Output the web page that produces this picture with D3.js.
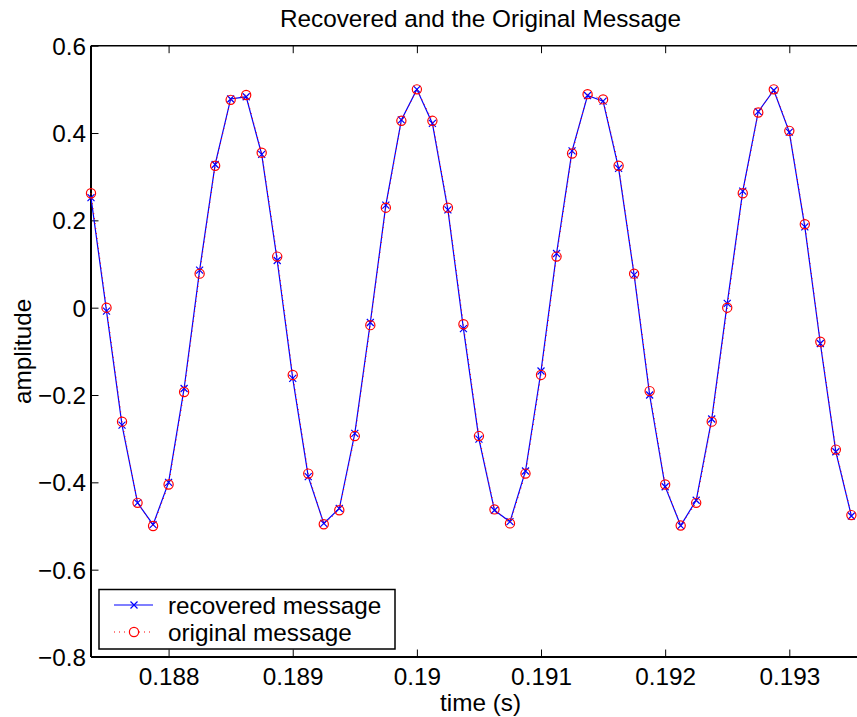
<!DOCTYPE html>
<html>
<head>
<meta charset="utf-8">
<script src="https://cdn.jsdelivr.net/npm/d3@7"></script>
<style>
  body { margin: 0; background: #fff; }
  text { font-family: "Liberation Sans", Arial, sans-serif; }
</style>
</head>
<body>
<div id="chart"></div>
<script>
// sample numbers at 8 kHz
const sampleRate = 8000;
const sampleIndex = d3.range(1499, 1549);

const recovered = [
  0.252, -0.008, -0.269, -0.447, -0.497, -0.400, -0.185, 0.086, 0.328, 0.478,
  0.483, 0.351, 0.108, -0.162, -0.387, -0.494, -0.460, -0.288, -0.034, 0.235,
  0.430, 0.500, 0.422, 0.224, -0.048, -0.301, -0.464, -0.490, -0.374, -0.145,
  0.124, 0.359, 0.486, 0.473, 0.319, 0.075, -0.200, -0.410, -0.499, -0.441,
  -0.255, 0.010, 0.267, 0.449, 0.498, 0.402, 0.185, -0.082, -0.330, -0.477
];

const original = [
  0.262, 0.000, -0.261, -0.447, -0.500, -0.405, -0.193, 0.078, 0.325, 0.476,
  0.487, 0.355, 0.117, -0.154, -0.380, -0.496, -0.464, -0.294, -0.040, 0.229,
  0.428, 0.500, 0.428, 0.229, -0.038, -0.294, -0.462, -0.494, -0.380, -0.154,
  0.117, 0.353, 0.489, 0.477, 0.325, 0.078, -0.191, -0.405, -0.499, -0.447,
  -0.261, 0.000, 0.262, 0.447, 0.500, 0.405, 0.191, -0.078, -0.325, -0.475
];

const xTicks = [0.188, 0.189, 0.190, 0.191, 0.192, 0.193];
const xTickLabels = ["0.188", "0.189", "0.19", "0.191", "0.192", "0.193"];
const yTicks = [-0.8, -0.6, -0.4, -0.2, 0, 0.2, 0.4, 0.6];
const yTickLabels = ["\u22120.8", "\u22120.6", "\u22120.4", "\u22120.2", "0", "0.2", "0.4", "0.6"];

const width = 857, height = 717;
const plot = { left: 91, right: 870, top: 45.7, bottom: 657 };

const svg = d3.select("#chart").append("svg")
  .attr("width", width)
  .attr("height", height);

const times = sampleIndex.map(n => n / sampleRate);

const x = d3.scaleLinear()
  .domain([times[0], 0.19365])
  .range([plot.left, plot.right]);
const y = d3.scaleLinear()
  .domain([-0.8, 0.6])
  .range([plot.bottom, plot.top]);

const fontSize = 24.3;
const dotted = "1,4";

// axes box (left, bottom, top)
const frame = svg.append("g").attr("stroke", "#000").attr("fill", "none");
frame.append("line").attr("x1", plot.left).attr("x2", plot.left)
  .attr("y1", plot.top).attr("y2", plot.bottom).attr("stroke-width", 2);
frame.append("line").attr("x1", plot.left).attr("x2", plot.right)
  .attr("y1", plot.bottom).attr("y2", plot.bottom).attr("stroke-width", 2);
frame.append("line").attr("x1", plot.left).attr("x2", plot.right)
  .attr("y1", plot.top).attr("y2", plot.top).attr("stroke-width", 1.5);

// x axis with inward ticks
const xAxis = svg.append("g")
  .attr("transform", `translate(0,${plot.bottom})`)
  .call(d3.axisBottom(x).tickValues(xTicks).tickSizeInner(-7.5).tickSizeOuter(0)
    .tickFormat((d, i) => xTickLabels[i]));
xAxis.select(".domain").remove();
xAxis.selectAll(".tick line").attr("stroke", "#000");
xAxis.selectAll(".tick text")
  .attr("y", 28).attr("dy", 0)
  .attr("font-size", fontSize).attr("fill", "#000");

// mirrored ticks on top
const xTop = svg.append("g")
  .attr("transform", `translate(0,${plot.top})`)
  .call(d3.axisTop(x).tickValues(xTicks).tickSizeInner(-7.5).tickSizeOuter(0).tickFormat(""));
xTop.select(".domain").remove();
xTop.selectAll(".tick line").attr("stroke", "#000");

// y axis with inward ticks
const yAxis = svg.append("g")
  .attr("transform", `translate(${plot.left},0)`)
  .call(d3.axisLeft(y).tickValues(yTicks).tickSizeInner(-7.5).tickSizeOuter(0)
    .tickFormat((d, i) => yTickLabels[i]));
yAxis.select(".domain").remove();
yAxis.selectAll(".tick line").attr("stroke", "#000");
yAxis.selectAll(".tick text")
  .attr("x", -5).attr("dy", "0.35em")
  .attr("font-size", fontSize).attr("fill", "#000");

// labels
svg.append("text")
  .attr("x", (plot.left + plot.right) / 2).attr("y", 27)
  .attr("text-anchor", "middle").attr("font-size", fontSize)
  .text("Recovered and the Original Message");
svg.append("text")
  .attr("x", (plot.left + plot.right) / 2).attr("y", 711)
  .attr("text-anchor", "middle").attr("font-size", fontSize)
  .text("time (s)");
svg.append("text")
  .attr("transform", `translate(31,${(plot.top + plot.bottom) / 2}) rotate(-90)`)
  .attr("text-anchor", "middle").attr("font-size", fontSize)
  .text("amplitude");

const crossPath = s => `M${-s},${-s}L${s},${s}M${-s},${s}L${s},${-s}`;

// recovered: blue solid with x markers
const recLine = d3.line().x((d, i) => x(times[i])).y(d => y(d));
svg.append("path")
  .datum(recovered)
  .attr("d", recLine)
  .attr("fill", "none").attr("stroke", "#0000ff").attr("stroke-width", 1.2);
svg.append("g").selectAll("path")
  .data(recovered)
  .enter().append("path")
  .attr("transform", (d, i) => `translate(${x(times[i])},${y(d)})`)
  .attr("d", crossPath(3.5))
  .attr("stroke", "#0000ff").attr("stroke-width", 1.2);

// original: red dotted with circle markers
const origLine = d3.line().x((d, i) => x(times[i])).y(d => y(d));
svg.append("path")
  .datum(original)
  .attr("d", origLine)
  .attr("fill", "none").attr("stroke", "#ff0000").attr("stroke-width", 1)
  .attr("stroke-dasharray", dotted);
svg.append("g").selectAll("circle")
  .data(original)
  .enter().append("circle")
  .attr("cx", (d, i) => x(times[i]))
  .attr("cy", d => y(d))
  .attr("r", 4.6)
  .attr("fill", "none").attr("stroke", "#ff0000").attr("stroke-width", 1.2);

// legend
const legend = svg.append("g");
legend.append("rect")
  .attr("x", 99).attr("y", 589.5).attr("width", 296).attr("height", 59.5)
  .attr("fill", "#fff").attr("stroke", "#000").attr("stroke-width", 1.5);

const legendItems = [
  { label: "recovered message", color: "#0000ff", dash: null, marker: "x", y: 605 },
  { label: "original message", color: "#ff0000", dash: dotted, marker: "o", y: 632 }
];
const li = legend.selectAll("g.item").data(legendItems).enter().append("g").attr("class", "item");
li.append("line")
  .attr("x1", 114).attr("x2", 153)
  .attr("y1", d => d.y).attr("y2", d => d.y)
  .attr("stroke", d => d.color).attr("stroke-width", 1.2)
  .attr("stroke-dasharray", d => d.dash);
li.filter(d => d.marker === "x").append("path")
  .attr("transform", d => `translate(134,${d.y})`)
  .attr("d", crossPath(3.5))
  .attr("stroke", d => d.color).attr("stroke-width", 1.2);
li.filter(d => d.marker === "o").append("circle")
  .attr("cx", 134).attr("cy", d => d.y).attr("r", 4.6)
  .attr("fill", "#fff").attr("stroke", d => d.color).attr("stroke-width", 1.2);
li.append("text")
  .attr("x", 168).attr("y", d => d.y).attr("dy", "0.35em")
  .attr("font-size", fontSize)
  .text(d => d.label);
</script>
</body>
</html>
